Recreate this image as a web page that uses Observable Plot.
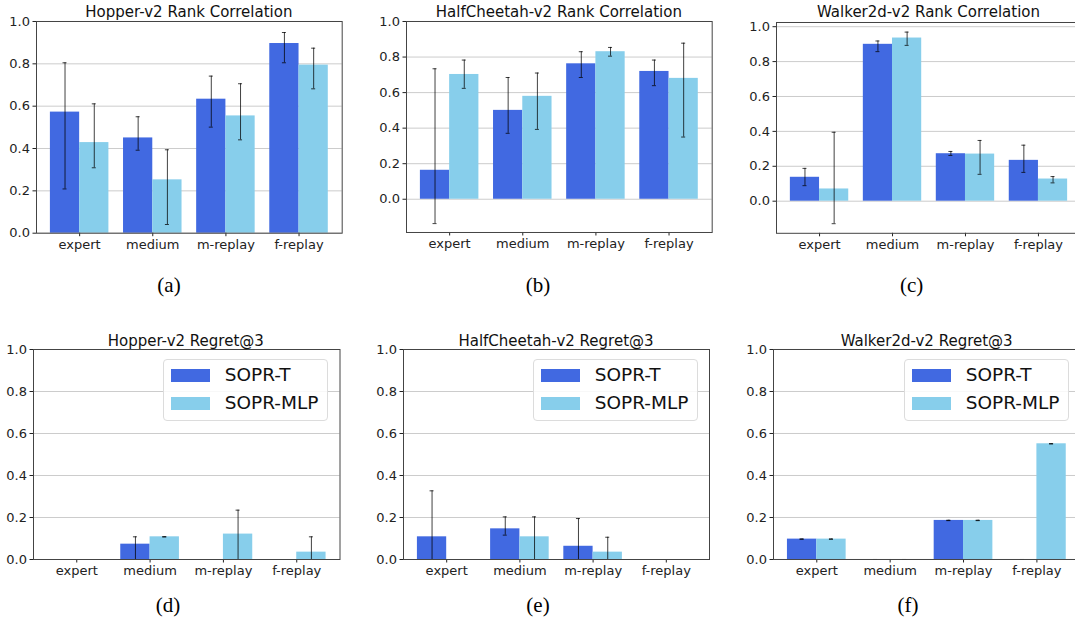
<!DOCTYPE html>
<html>
<head>
<meta charset="utf-8">
<script src="https://cdn.jsdelivr.net/npm/d3@7"></script>
<script src="https://cdn.jsdelivr.net/npm/@observablehq/plot@0.6"></script>
<style>
  html, body { margin: 0; padding: 0; background: white; overflow: hidden; }
  #root { position: relative; width: 1075px; height: 627px; overflow: hidden; background: white; font-family: "DejaVu Sans", sans-serif; }
  #root svg text { font-size: 13px !important; font-family: "DejaVu Sans", sans-serif; fill: #222; }
  .title { position: absolute; transform: translate(-50%, -50%); font-size: 15px; line-height: 1; white-space: nowrap; color: #111; }
  .sub { position: absolute; transform: translate(-50%, -50%); font-family: "Liberation Serif", serif; font-size: 21px; line-height: 1; color: #000; }
  .legend { position: absolute; box-sizing: border-box; border: 1px solid #dcdcdc; border-radius: 4px; background: rgba(255,255,255,0.85); }
  .legend .row { position: absolute; left: 0; display: flex; align-items: center; height: 20px; }
  .legend .sw { width: 39px; height: 13px; margin-left: 7px; margin-right: 15px; }
  .legend .lab { font-size: 18.5px; line-height: 1; color: #111; }
</style>
</head>
<body>
<div id="root"></div>
<script>
// ---------- data ----------
const categories = ["expert", "medium", "m-replay", "f-replay"];
const series = ["SOPR-T", "SOPR-MLP"];
const yTickValues = [0, 0.2, 0.4, 0.6, 0.8, 1.0];

// (a) Hopper-v2 Rank Correlation
const hopperRankT = [0.572, 0.450, 0.633, 0.896];
const hopperRankTErr = [[0.209, 0.805], [0.392, 0.550], [0.501, 0.742], [0.805, 0.948]];
const hopperRankMLP = [0.428, 0.252, 0.554, 0.794];
const hopperRankMLPErr = [[0.309, 0.611], [0.041, 0.394], [0.441, 0.706], [0.682, 0.874]];

// (b) HalfCheetah-v2 Rank Correlation
const cheetahRankT = [0.163, 0.500, 0.762, 0.719];
const cheetahRankTErr = [[-0.137, 0.734], [0.371, 0.685], [0.685, 0.830], [0.639, 0.783]];
const cheetahRankMLP = [0.702, 0.579, 0.830, 0.680];
const cheetahRankMLPErr = [[0.624, 0.783], [0.393, 0.710], [0.805, 0.854], [0.350, 0.878]];

// (c) Walker2d-v2 Rank Correlation
const walkerRankT = [0.137, 0.899, 0.272, 0.234];
const walkerRankTErr = [[0.089, 0.188], [0.857, 0.918], [0.262, 0.285], [0.165, 0.321]];
const walkerRankMLP = [0.070, 0.935, 0.270, 0.127];
const walkerRankMLPErr = [[-0.129, 0.395], [0.893, 0.969], [0.154, 0.348], [0.105, 0.141]];

// (d) Hopper-v2 Regret@3
const hopperRegretT = [0, 0.073, 0, 0];
const hopperRegretTErr = [[0, 0], [0, 0.108], [0, 0], [0, 0]];
const hopperRegretMLP = [0, 0.108, 0.121, 0.035];
const hopperRegretMLPErr = [[0, 0], [0.107, 0.109], [0, 0.235], [0, 0.108]];

// (e) HalfCheetah-v2 Regret@3
const cheetahRegretT = [0.108, 0.146, 0.063, 0];
const cheetahRegretTErr = [[0, 0.327], [0.116, 0.203], [0, 0.195], [0, 0]];
const cheetahRegretMLP = [0, 0.108, 0.035, 0];
const cheetahRegretMLPErr = [[0, 0], [0, 0.203], [0, 0.106], [0, 0]];

// (f) Walker2d-v2 Regret@3
const walkerRegretT = [0.097, 0, 0.186, 0];
const walkerRegretTErr = [[0.096, 0.098], [0, 0], [0.185, 0.187], [0, 0]];
const walkerRegretMLP = [0.097, 0, 0.186, 0.551];
const walkerRegretMLPErr = [[0.096, 0.098], [0, 0], [0.185, 0.187], [0.550, 0.552]];

// ---------- drawing ----------
const root = document.getElementById("root");
const colors = ["#4169E1", "#87CEEB"];

function panel(cfg) {
  const {L, R, T, B, yDomain, t, tErr, m, mErr, title, titleY, sub, subX, subY, legend} = cfg;
  const ml = 45, mt = 5, mr = 10, mb = 30;
  const width = (R - L) + ml + mr, height = (B - T) + mt + mb;
  const xDomain = [-0.59, 3.59];
  const ppu = (R - L) / (xDomain[1] - xDomain[0]);
  const cap = 2 / ppu;
  const rows = categories.flatMap((c, i) => [
    {x1: i - 0.4, x2: i, xc: i - 0.2, v: t[i], lo: tErr[i][0], hi: tErr[i][1], s: series[0]},
    {x1: i, x2: i + 0.4, xc: i + 0.2, v: m[i], lo: mErr[i][0], hi: mErr[i][1], s: series[1]}
  ]);
  const ticks = yTickValues.filter(v => v >= yDomain[0] - 1e-9 && v <= yDomain[1] + 1e-9);
  const svg = Plot.plot({
    width, height, marginLeft: ml, marginTop: mt, marginRight: mr, marginBottom: mb,
    style: {fontFamily: "DejaVu Sans", fontSize: "13px", color: "#222", background: "transparent", overflow: "visible"},
    x: {type: "linear", domain: xDomain},
    y: {domain: yDomain},
    color: {domain: series, range: colors},
    marks: [
      Plot.ruleY(ticks, {stroke: "#b0b0b0", strokeOpacity: 0.65}),
      Plot.rectY(rows, {x1: "x1", x2: "x2", y1: 0, y2: "v", fill: "s"}),
      Plot.ruleX(rows, {x: "xc", y1: "lo", y2: "hi", stroke: "black", strokeOpacity: 0.75, strokeWidth: 1}),
      Plot.ruleY(rows, {y: "lo", x1: d => d.xc - cap, x2: d => d.xc + cap, stroke: "black", strokeOpacity: 0.75}),
      Plot.ruleY(rows, {y: "hi", x1: d => d.xc - cap, x2: d => d.xc + cap, stroke: "black", strokeOpacity: 0.75}),
      Plot.axisY({ticks, tickFormat: d3.format(".1f"), tickSize: 3.5, tickPadding: 3, label: null, fontSize: 13}),
      Plot.axisX({ticks: [0, 1, 2, 3], tickFormat: i => categories[i], tickSize: 3.5, tickPadding: 3, label: null, fontSize: 13}),
      Plot.frame({stroke: "#444", strokeWidth: 1})
    ]
  });
  svg.style.position = "absolute";
  svg.style.left = (L - ml) + "px";
  svg.style.top = (T - mt) + "px";
  root.appendChild(svg);

  const tt = document.createElement("div");
  tt.className = "title";
  tt.textContent = title;
  tt.style.left = ((L + R) / 2) + "px";
  tt.style.top = titleY + "px";
  root.appendChild(tt);

  const sl = document.createElement("div");
  sl.className = "sub";
  sl.textContent = sub;
  sl.style.left = subX + "px";
  sl.style.top = subY + "px";
  root.appendChild(sl);

  if (legend) {
    const lg = document.createElement("div");
    lg.className = "legend";
    const w = 165.7, h = 61.5;
    lg.style.left = (R - 10.5 - w) + "px";
    lg.style.top = (T + 9.7) + "px";
    lg.style.width = w + "px";
    lg.style.height = h + "px";
    series.forEach((s, k) => {
      const row = document.createElement("div");
      row.className = "row";
      row.style.top = (k === 0 ? 5.5 : 33.7) + "px";
      const sw = document.createElement("div");
      sw.className = "sw";
      sw.style.background = colors[k];
      const lab = document.createElement("span");
      lab.className = "lab";
      lab.textContent = s;
      row.appendChild(sw);
      row.appendChild(lab);
      lg.appendChild(row);
    });
    root.appendChild(lg);
  }
}

panel({L: 36, R: 341.7, T: 21, B: 232.7, yDomain: [0, 1],
  t: hopperRankT, tErr: hopperRankTErr, m: hopperRankMLP, mErr: hopperRankMLPErr,
  title: "Hopper-v2 Rank Correlation", titleY: 11.7, sub: "(a)", subX: 169, subY: 285});
panel({L: 406, R: 711.7, T: 21.3, B: 232.3, yDomain: [-0.187, 1.0],
  t: cheetahRankT, tErr: cheetahRankTErr, m: cheetahRankMLP, mErr: cheetahRankMLPErr,
  title: "HalfCheetah-v2 Rank Correlation", titleY: 11.7, sub: "(b)", subX: 538, subY: 285});
panel({L: 776, R: 1081, T: 21.5, B: 232.3, yDomain: [-0.184, 1.024],
  t: walkerRankT, tErr: walkerRankTErr, m: walkerRankMLP, mErr: walkerRankMLPErr,
  title: "Walker2d-v2 Rank Correlation", titleY: 11.7, sub: "(c)", subX: 911.7, subY: 285});
panel({L: 32.5, R: 339, T: 349.3, B: 559.3, yDomain: [0, 1],
  t: hopperRegretT, tErr: hopperRegretTErr, m: hopperRegretMLP, mErr: hopperRegretMLPErr,
  title: "Hopper-v2 Regret@3", titleY: 340.5, sub: "(d)", subX: 168, subY: 605, legend: true});
panel({L: 403, R: 709, T: 349.3, B: 559.3, yDomain: [0, 1],
  t: cheetahRegretT, tErr: cheetahRegretTErr, m: cheetahRegretMLP, mErr: cheetahRegretMLPErr,
  title: "HalfCheetah-v2 Regret@3", titleY: 340.5, sub: "(e)", subX: 538, subY: 605, legend: true});
panel({L: 773.3, R: 1080, T: 349.3, B: 559.3, yDomain: [0, 1],
  t: walkerRegretT, tErr: walkerRegretTErr, m: walkerRegretMLP, mErr: walkerRegretMLPErr,
  title: "Walker2d-v2 Regret@3", titleY: 340.5, sub: "(f)", subX: 908, subY: 605, legend: true});
</script>
</body>
</html>
